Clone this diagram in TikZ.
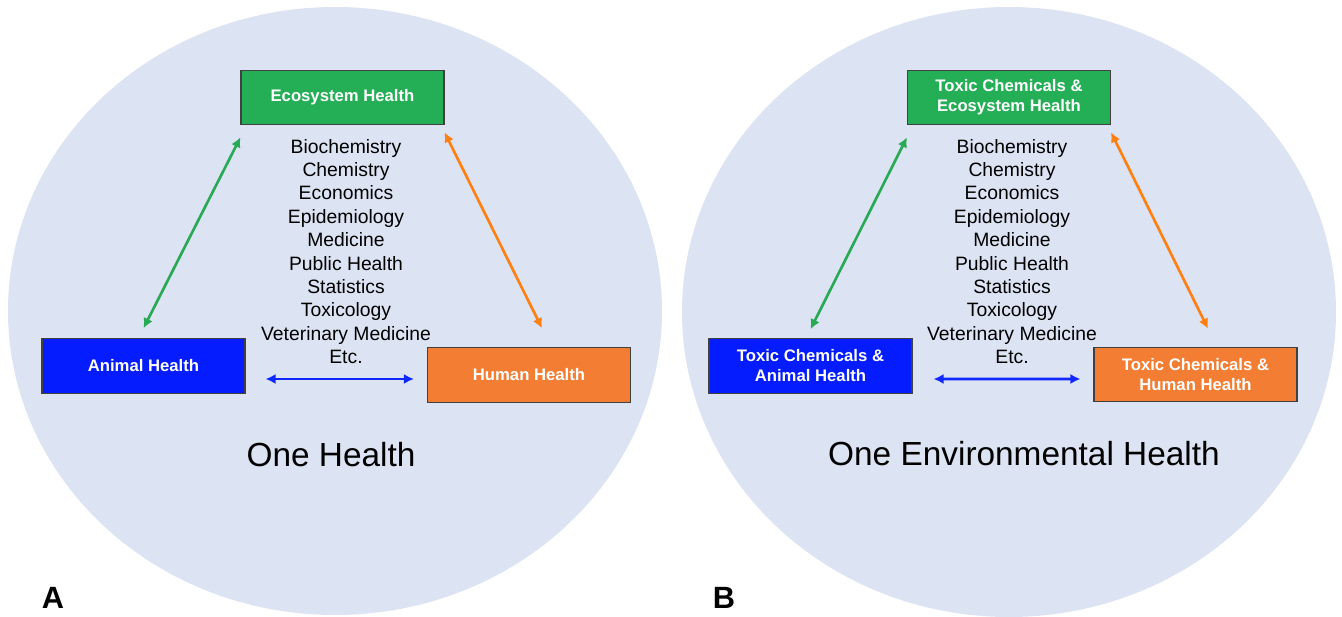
\documentclass[tikz,border=0pt]{standalone}
\usepackage{fontspec}
\setmainfont{Liberation Sans}
\usepackage{tikz}
\usetikzlibrary{arrows.meta,calc}
\definecolor{bgblue}{RGB}{220,227,243}
\definecolor{ecogreen}{RGB}{36,174,85}
\definecolor{animalblue}{RGB}{4,28,255}
\definecolor{humanorange}{RGB}{243,125,50}
\definecolor{arrgreen}{RGB}{40,170,85}
\definecolor{arrorange}{RGB}{255,128,16}
\definecolor{arrblue}{RGB}{16,40,255}
\newcommand{\disciplines}{Biochemistry\\Chemistry\\Economics\\Epidemiology\\Medicine\\Public Health\\Statistics\\Toxicology\\Veterinary Medicine\\Etc.}

\begin{document}
\begin{tikzpicture}[
  box/.style={draw=black!75, line width=0.6pt, minimum width=4.06cm, minimum height=1.09cm,
              text=white, align=center, font=\fontsize{9.5}{11.4}\selectfont\bfseries},
  link/.style={line width=1.5pt, {Latex[length=2mm,width=2mm]}-{Latex[length=2mm,width=2mm]}},
  fields/.style={align=center, inner sep=0pt, font=\fontsize{11}{13.3}\selectfont},
  title/.style={font=\fontsize{19}{23}\selectfont},
  panel/.style={font=\fontsize{17.5}{20}\selectfont\bfseries}]
  \useasboundingbox (0,0) rectangle (26.84,12.32);

  \fill[bgblue] (6.70,6.10) ellipse [x radius=6.54, y radius=6.08];
  \fill[bgblue] (20.18,6.08) ellipse [x radius=6.54, y radius=6.10];

  % A
  \node[box, fill=ecogreen] (eco) at (6.85,10.37) {Ecosystem Health};
  \node[box, fill=animalblue] (animal) at (2.87,5.00) {Animal Health};
  \node[box, fill=humanorange] (human) at (10.58,4.82) {Human Health};
  \node[fields] (fieldsA) at (6.92,7.29) {\disciplines};
  \node[title] (oneA) at (6.62,3.22) {One Health};
  \node[panel] (labA) at (1.06,0.36) {A};

  \draw[link, arrgreen] ($(animal.north)+(0,0.2)$) -- ($(eco.south west)+(0,-0.24)$);
  \draw[link, arrorange] ($(eco.south east)+(0,-0.14)$) -- ($(human.north)+(0.26,0.38)$);
  \draw[link, arrblue] ($(animal.east)+(0.4,-0.26)$) -- ($(human.west)+(-0.26,-0.08)$);

  % B
  \node[box, fill=ecogreen] (ecoB) at (20.18,10.37) {Toxic Chemicals \&\\Ecosystem Health};
  \node[box, fill=animalblue] (animalB) at (16.21,5.00) {Toxic Chemicals \&\\Animal Health};
  \node[box, fill=humanorange] (humanB) at (23.91,4.83) {Toxic Chemicals \&\\Human Health};
  \node[fields] (fieldsB) at (20.24,7.29) {\disciplines};
  \node[title] (oneB) at (20.48,3.24) {One Environmental Health};
  \node[panel] (labB) at (14.48,0.36) {B};

  \draw[link, arrgreen] ($(animalB.north)+(0,0.18)$) -- ($(ecoB.south west)+(0,-0.24)$);
  \draw[link, arrorange] ($(ecoB.south east)+(0,-0.14)$) -- ($(humanB.north)+(0.25,0.36)$);
  \draw[link, arrblue] ($(animalB.east)+(0.42,-0.26)$) -- ($(humanB.west)+(-0.26,-0.09)$);
\end{tikzpicture}
\end{document}
